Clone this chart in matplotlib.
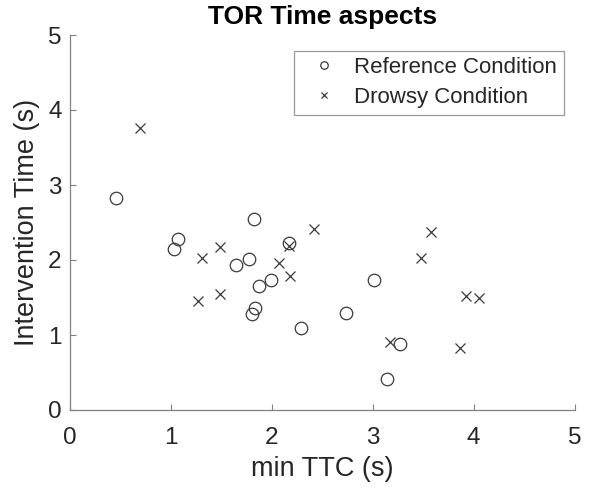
import matplotlib
matplotlib.use("Agg")
import matplotlib.pyplot as plt

plt.rcParams['font.family'] = ['Liberation Sans', 'DejaVu Sans']

ref_x = [0.46, 1.07, 1.03, 1.82, 1.77, 1.65, 1.87, 1.99, 1.83, 1.80, 2.29, 2.17, 3.01, 2.74, 3.27, 3.14]
ref_y = [2.83, 2.28, 2.15, 2.55, 2.02, 1.94, 1.66, 1.74, 1.36, 1.28, 1.10, 2.22, 1.74, 1.29, 0.88, 0.41]

drowsy_x = [0.69, 1.31, 1.49, 1.27, 1.49, 2.07, 2.18, 2.17, 2.42, 3.58, 3.48, 3.92, 4.05, 3.17, 3.87]
drowsy_y = [3.76, 2.03, 2.17, 1.46, 1.55, 1.96, 1.79, 2.19, 2.42, 2.38, 2.03, 1.52, 1.50, 0.91, 0.83]

ticks = [0, 1, 2, 3, 4, 5]

fig = plt.figure(figsize=(5.9, 4.88), dpi=100)
ax = fig.add_axes([70/590, 1 - 410/488, (574.5-70)/590, (410-35)/488])

mc = '#3a3a3a'
ax.plot(ref_x, ref_y, linestyle='none', marker='o', markersize=9, markerfacecolor='none',
        markeredgecolor=mc, markeredgewidth=0.9, label='Reference Condition')
ax.plot(drowsy_x, drowsy_y, linestyle='none', marker='x', markersize=7.5,
        markeredgecolor=mc, markeredgewidth=0.9, label='Drowsy Condition')

ax.set_xlim(0, 5)
ax.set_ylim(0, 5)
ax.set_xticks(ticks)
ax.set_yticks(ticks)
ax.spines['top'].set_visible(False)
ax.spines['right'].set_visible(False)
for s in ['left', 'bottom']:
    ax.spines[s].set_color('#808080')
    ax.spines[s].set_linewidth(0.9)
ax.tick_params(direction='in', length=4, color='#808080', labelsize=17.5, labelcolor='#262626')
ax.tick_params(axis='x', pad=12)
ax.tick_params(axis='y', pad=6)

ax.set_xlabel('min TTC (s)', fontsize=19.5, color='#262626', labelpad=5)
ax.set_ylabel('Intervention Time (s)', fontsize=19.5, color='#262626', labelpad=6)
ax.set_title('TOR Time aspects', fontsize=19, fontweight='bold', color='black', pad=8)

leg = ax.legend(loc='upper right', bbox_to_anchor=(563.5/590, 1 - 50.5/488), bbox_transform=fig.transFigure,
                fontsize=16, frameon=True, fancybox=False, edgecolor='#808080',
                markerscale=0.6, handlelength=2.1, borderpad=0.3, labelspacing=0.4,
                handletextpad=0.3, borderaxespad=0)
leg.get_frame().set_linewidth(0.9)
for t in leg.get_texts():
    t.set_color('#262626')

fig.savefig('out.png', dpi=100)
